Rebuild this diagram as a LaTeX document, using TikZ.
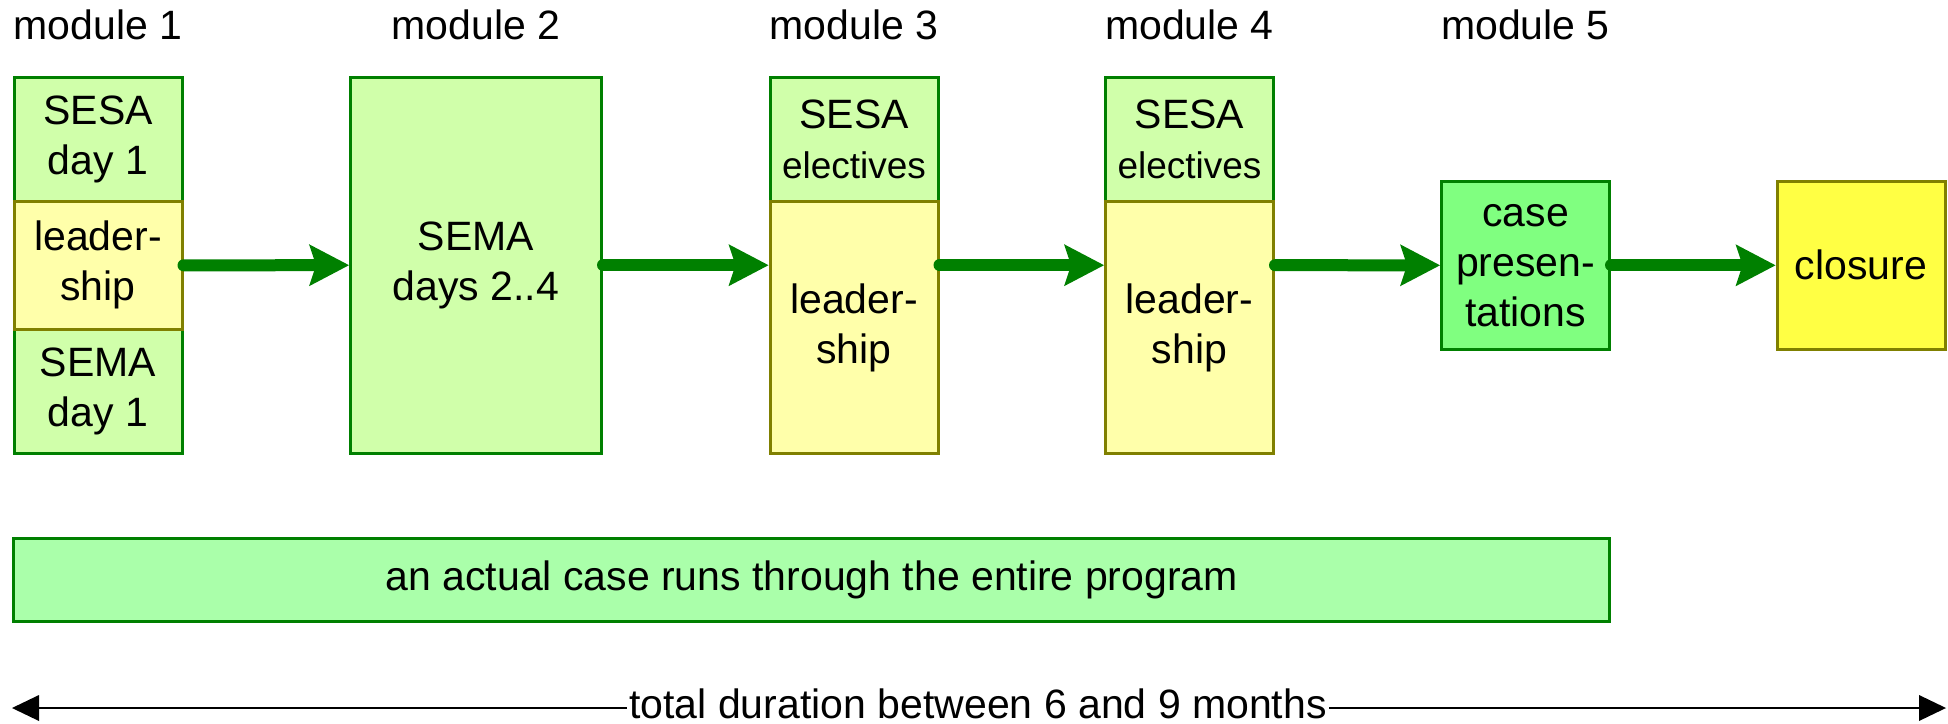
\documentclass[tikz,border=0pt]{standalone}
\usepackage{fontspec}
\setmainfont{Liberation Sans}
\usetikzlibrary{arrows.meta}
\definecolor{lgreen}{HTML}{D0FFAA}
\definecolor{dgreen}{HTML}{008000}
\definecolor{lyellow}{HTML}{FFFFAA}
\definecolor{olive}{HTML}{808000}
\definecolor{mgreen}{HTML}{80FF80}
\definecolor{byellow}{HTML}{FFFF44}
\definecolor{bargreen}{HTML}{AAFFAA}
\begin{document}
\begin{tikzpicture}[x=0.5pt,y=-0.5pt,
  txt/.style={font=\fontsize{20.5}{25}\selectfont, inner sep=0pt, align=center},
  cellbase/.style={txt, rectangle, draw, line width=1.5pt, minimum width=84pt},
  gcell/.style={cellbase, fill=lgreen, draw=dgreen},
  ycell/.style={cellbase, fill=lyellow, draw=olive},
  flow/.style={draw=dgreen, line width=6pt, line cap=round, -{Stealth[length=20pt,width=21pt,inset=3.5pt,line width=0pt]}},
  span/.style={draw=black, line width=1.25pt, -{Triangle[length=13.5pt,width=13pt,line width=0pt]}},
  modlabel/.style={txt, anchor=base}
]
\useasboundingbox (0,0) rectangle (1948,723);

% module labels
\node[modlabel] (l1) at (98,39) {module 1};
\node[modlabel] (l2) at (476,39) {module 2};
\node[modlabel] (l3) at (854,39) {module 3};
\node[modlabel] (l4) at (1189.5,39) {module 4};
\node[modlabel] (l5) at (1525.5,39) {module 5};

% module 1
\node[gcell, minimum height=62.15pt] (m1a) at (98,139.2) {SESA\\day 1};
\node[gcell, minimum height=62.1pt] (m1c) at (98,391.3) {SEMA\\day 1};
\node[ycell, minimum height=64pt] (m1b) at (98,265.3) {leader-\\ship};

% module 2
\node[gcell, minimum width=125.5pt, minimum height=188.2pt] (m2) at (476,265.2) {SEMA\\days 2..4};

% module 3
\node[gcell, minimum height=62.15pt] (m3a) at (854,139.2) {SESA\\{\fontsize{18.5}{23}\selectfont electives}};
\node[ycell, minimum height=126.05pt] (m3b) at (854,327.4) {leader-\\ship};

% module 4
\node[gcell, minimum height=62.15pt] (m4a) at (1189.5,139.2) {SESA\\{\fontsize{18.5}{23}\selectfont electives}};
\node[ycell, minimum height=126.05pt] (m4b) at (1189.5,327.4) {leader-\\ship};

% module 5
\node[cellbase, fill=mgreen, draw=dgreen, minimum height=83.85pt] (m5) at (1525.5,265.3) {case\\presen-\\tations};

% closure
\node[cellbase, fill=byellow, draw=olive, minimum height=83.85pt] (cl) at (1861,265.3) {closure};

% flow arrows
\draw[flow] (m1b.east) -- (m2.west);
\draw[flow] (m2.east) -- (m2.east -| m3b.west);
\draw[flow] (m3b.east |- m2.east) -- (m4b.west |- m2.east);
\draw[flow] (m4b.east |- m2.east) -- (m5.west);
\draw[flow] (m5.east) -- (cl.west);

% bar
\node[txt, rectangle, draw=dgreen, fill=bargreen, line width=1.5pt, minimum width=798pt, minimum height=41.5pt] (bar) at (811.8,579.5) {an actual case runs through the entire program};

% total duration
\node[txt, inner xsep=1pt, anchor=base] (tot) at (978,718) {total duration between 6 and 9 months};
\coordinate (L) at (12,708);
\coordinate (R) at (1946,708);
\draw[span] (tot.west |- L) -- (L);
\draw[span] (tot.east |- R) -- (R);
\end{tikzpicture}
\end{document}
